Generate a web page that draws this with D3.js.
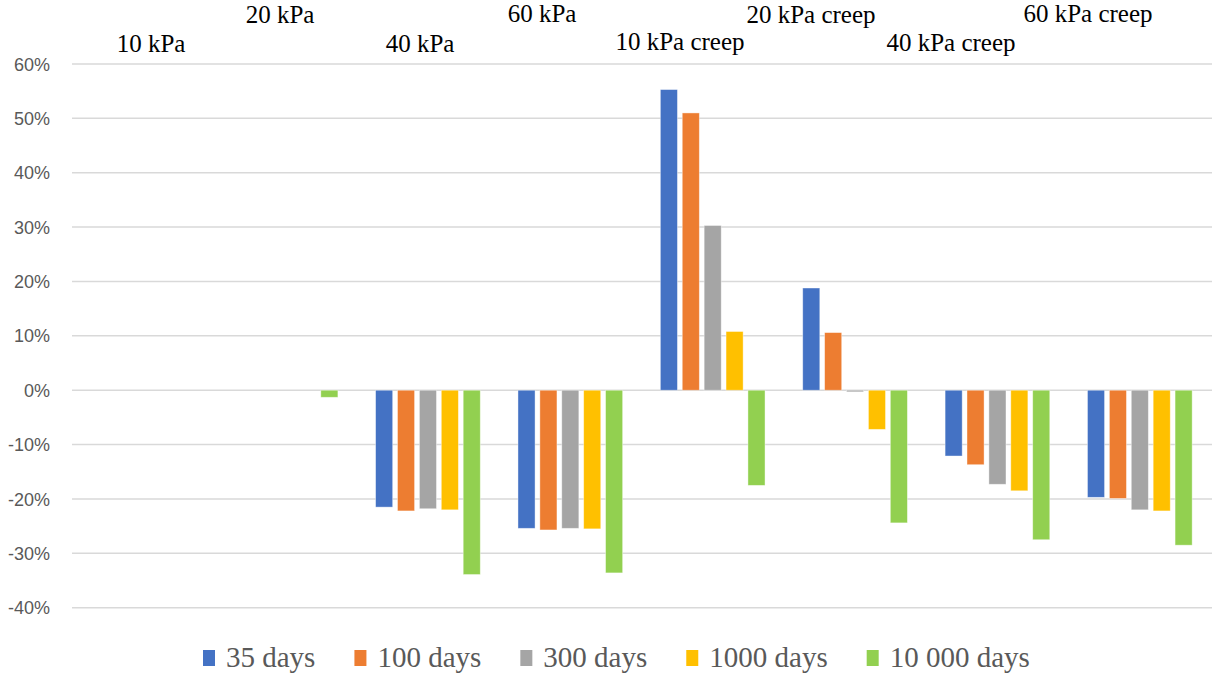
<!DOCTYPE html>
<html>
<head>
<meta charset="utf-8">
<script src="https://cdn.jsdelivr.net/npm/d3@7"></script>
<style>
  html, body { margin: 0; padding: 0; background: #fff; }
  svg { display: block; }
</style>
</head>
<body>
<svg id="chart" width="1212" height="674"></svg>
<script>
// Loading cases along the category axis
const categories = ["10 kPa", "20 kPa", "40 kPa", "60 kPa",
                    "10 kPa creep", "20 kPa creep", "40 kPa creep", "60 kPa creep"];

// Series names (legend) and colours
const seriesNames = ["35 days", "100 days", "300 days", "1000 days", "10 000 days"];
const seriesColors = ["#4472C4", "#ED7D31", "#A5A5A5", "#FFC000", "#92D050"];

// Relative change per series, one value per category (fraction)
const days35    = [0, 0, -0.215, -0.254, 0.553, 0.188, -0.121, -0.197];
const days100   = [0, 0, -0.222, -0.257, 0.510, 0.106, -0.137, -0.199];
const days300   = [0, 0, -0.218, -0.254, 0.303, -0.003, -0.173, -0.220];
const days1000  = [0, 0, -0.220, -0.255, 0.108, -0.072, -0.185, -0.222];
const days10000 = [0, -0.013, -0.339, -0.336, -0.175, -0.244, -0.275, -0.285];
const seriesValues = [days35, days100, days300, days1000, days10000];

// Value axis ticks
const yTicks = [-0.4, -0.3, -0.2, -0.1, 0, 0.1, 0.2, 0.3, 0.4, 0.5, 0.6];

// Staggered case captions above the plot: [centre x, baseline y]
const captionSpots = [[151, 52], [280, 23], [420, 52], [542, 22],
                      [680, 50], [811, 23], [951, 51], [1088, 22]];

const svg = d3.select("#chart");
const plot = { left: 72, right: 1211, top: 64, bottom: 607.7 };

const y = d3.scaleLinear().domain([-0.4, 0.6]).range([plot.bottom, plot.top]);
const x0 = d3.scaleBand().domain(categories).range([plot.left, plot.right]).padding(0);
const groupWidth = 109.5;
const x1 = d3.scaleBand().domain(seriesNames)
  .range([(x0.step() - groupWidth) / 2, (x0.step() + groupWidth) / 2])
  .paddingInner(0.22).paddingOuter(0.11);

// Gridlines
svg.append("g")
  .selectAll("line").data(yTicks).join("line")
  .attr("x1", plot.left).attr("x2", 1212)
  .attr("y1", d => y(d)).attr("y2", d => y(d))
  .attr("stroke", "#D9D9D9").attr("stroke-width", 1.5);

// Value axis labels
const fmt = d => d3.format(".0%")(d).replace("\u2212", "-");
const yAxis = d3.axisLeft(y).tickValues(yTicks).tickFormat(fmt).tickSize(0).tickPadding(22);
const yg = svg.append("g").attr("transform", `translate(${plot.left},0)`).call(yAxis);
yg.select(".domain").remove();
yg.selectAll("text")
  .attr("fill", "#595959")
  .attr("font-family", "'Liberation Sans', Arial, sans-serif")
  .attr("font-size", 18)
  .attr("dy", "0.34em");

// Bars
const groups = svg.append("g")
  .selectAll("g").data(categories).join("g")
  .attr("transform", d => `translate(${x0(d)},0)`);

groups.selectAll("rect")
  .data((c, ci) => seriesNames.map((s, si) => ({ s, si, v: seriesValues[si][ci] })))
  .join("rect")
  .attr("x", d => x1(d.s))
  .attr("width", x1.bandwidth())
  .attr("y", d => Math.min(y(d.v), y(0)))
  .attr("height", d => Math.abs(y(d.v) - y(0)))
  .attr("fill", d => seriesColors[d.si])
  .attr("stroke", "#fff").attr("stroke-opacity", 0.5).attr("stroke-width", 0.8);

// Case captions
svg.append("g")
  .selectAll("text").data(categories).join("text")
  .attr("x", (d, i) => captionSpots[i][0])
  .attr("y", (d, i) => captionSpots[i][1])
  .attr("text-anchor", "middle")
  .attr("font-family", "'Liberation Serif', 'Times New Roman', serif")
  .attr("font-size", 25)
  .attr("fill", "#000")
  .text(d => d);

// Legend
const legend = svg.append("g").attr("transform", "translate(203,650)");
let lx = 0;
seriesNames.forEach((name, i) => {
  const item = legend.append("g").attr("transform", `translate(${lx},0)`);
  item.append("rect").attr("x", 0).attr("y", 0).attr("width", 12).attr("height", 16)
    .attr("fill", seriesColors[i]);
  const t = item.append("text")
    .attr("x", 23).attr("y", 17)
    .attr("font-family", "'Liberation Serif', 'Times New Roman', serif")
    .attr("font-size", 29)
    .attr("fill", "#595959")
    .text(name);
  lx += 23 + t.node().getComputedTextLength() + 39;
});
</script>
</body>
</html>
